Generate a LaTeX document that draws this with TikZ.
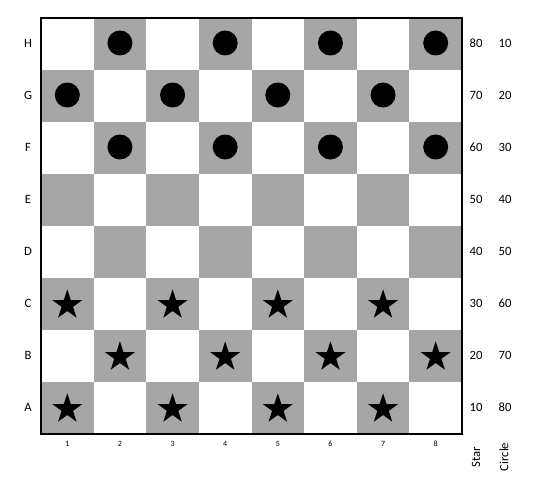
\documentclass[tikz,border=0pt]{standalone}
\usepackage{fontspec}
\setmainfont{Carlito}
\usetikzlibrary{shapes.geometric}
\definecolor{boardgray}{RGB}{166,166,166}
\tikzset{
  circlepiece/.style={circle, fill=black, inner sep=0pt, minimum size=18.75pt},
  starpiece/.style={star, star points=5, star point ratio=2.6, fill=black, inner sep=0pt, minimum size=23.5pt},
  sidelabel/.style={inner sep=0.75pt, font=\fontsize{9.5}{11}\selectfont},
  collabel/.style={inner sep=0.75pt, font=\fontsize{6}{7}\selectfont},
}
\begin{document}
\begin{tikzpicture}[x=0.75pt,y=0.75pt,yscale=-1]
\useasboundingbox (0,0) rectangle (548,478);
% dark squares
\foreach \c in {1,...,8}
  \foreach \r in {1,...,8}{
    \pgfmathparse{int(mod(\c+\r,2))}
    \ifnum\pgfmathresult=0
      \fill[boardgray] ({41+(\c-1)*52.625},{18+(8-\r)*52}) rectangle ++(52.625,52);
    \fi
  }
\draw[line width=1pt] (41,18) rectangle (462,434);
% circles on F, G, H
\foreach \r in {6,7,8}
  \foreach \c in {1,...,8}{
    \pgfmathparse{int(mod(\c+\r,2))}
    \ifnum\pgfmathresult=0
      \node[circlepiece] (circ-\c-\r) at ({41+(\c-0.5)*52.625},{18+(8-\r)*52+25}) {};
    \fi
  }
% stars on A, B, C
\foreach \r in {1,2,3}
  \foreach \c in {1,...,8}{
    \pgfmathparse{int(mod(\c+\r,2))}
    \ifnum\pgfmathresult=0
      \node[starpiece] (star-\c-\r) at ({41+(\c-0.5)*52.625},{18+(8-\r)*52+27}) {};
    \fi
  }
% row labels and counts
\foreach \lbl [count=\r] in {A,B,C,D,E,F,G,H}{
  \node[sidelabel] (row-\r) at (28,{18+(8-\r)*52+25}) {\lbl};
  \pgfmathtruncatemacro{\nstar}{10*\r}
  \pgfmathtruncatemacro{\ncirc}{10*(9-\r)}
  \node[sidelabel] (nstar-\r) at (476,{18+(8-\r)*52+25}) {\nstar};
  \node[sidelabel] (ncirc-\r) at (505,{18+(8-\r)*52+25}) {\ncirc};
}
% column labels
\foreach \c in {1,...,8}
  \node[collabel] (col-\c) at ({41+(\c-0.5)*52.625},444) {\c};
\node[sidelabel, rotate=90] (startxt) at (476,457) {Star};
\node[sidelabel, rotate=90] (circtxt) at (504,457) {Circle};
\end{tikzpicture}
\end{document}
